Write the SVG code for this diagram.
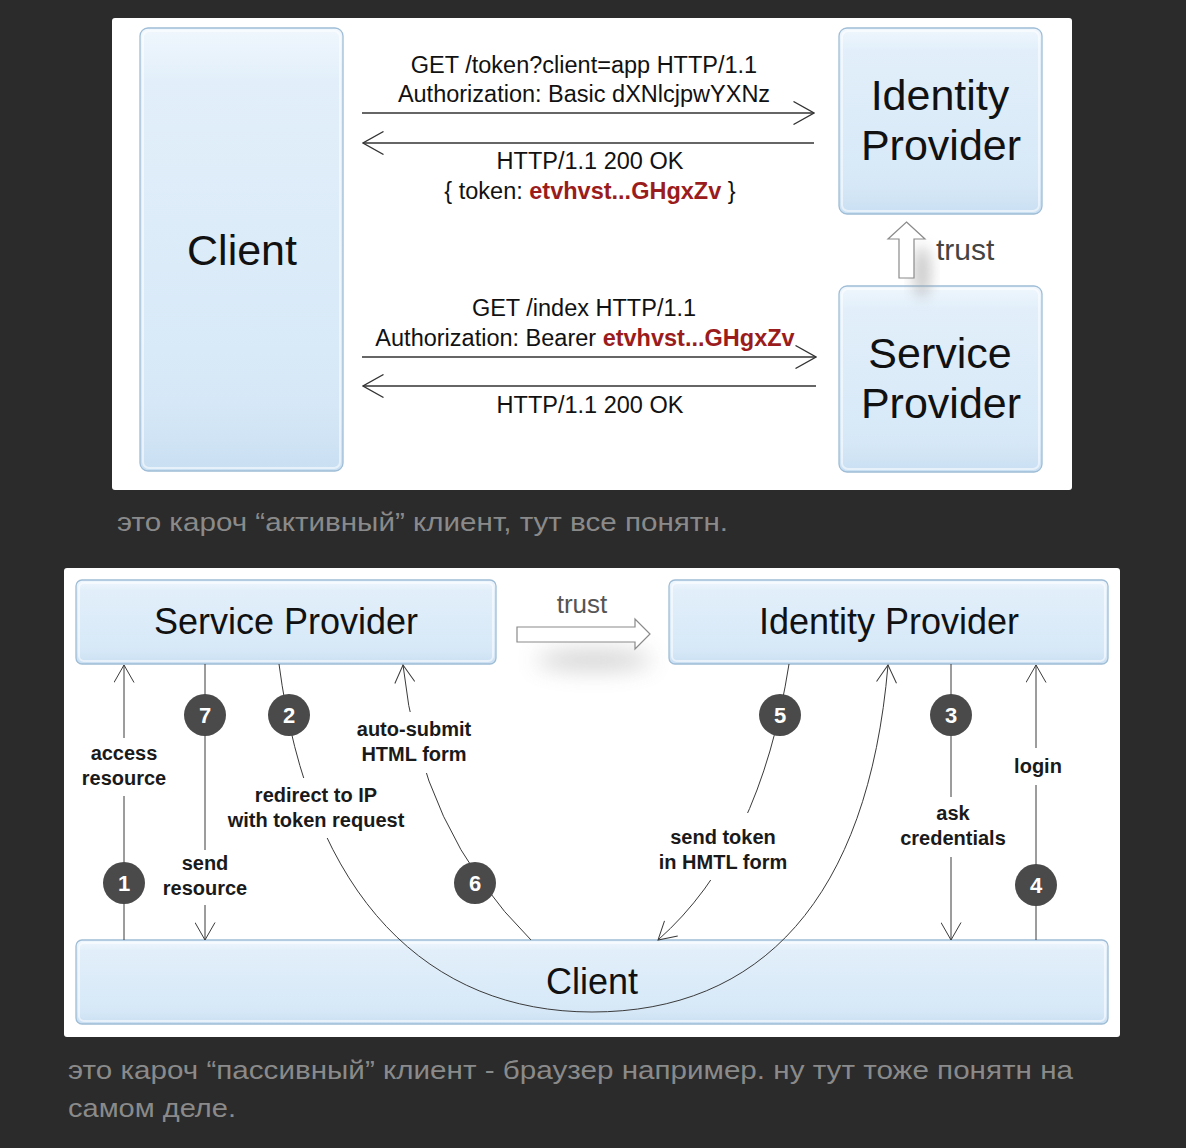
<svg xmlns="http://www.w3.org/2000/svg" width="1186" height="1148" viewBox="0 0 1186 1148">
<defs>
<style>
.t{font-family:"Liberation Sans",Arial,sans-serif;fill:#111}
.big{font-size:43px;text-anchor:middle}
.mid{font-size:36px;text-anchor:middle}
.msg{font-size:23.5px;text-anchor:middle}
.red{fill:#9b1c1c;font-weight:bold}
.lbl{font-size:20px;font-weight:bold;text-anchor:middle;fill:#1a1a1a}
.box{fill:url(#bg);stroke:#9fbdd6;stroke-width:1.3}
.hl{fill:none;stroke:#ffffff;stroke-opacity:.55;stroke-width:2}
.c1{fill:none;stroke:#333;stroke-width:1.4}
.c2{fill:none;stroke:#3a3a3a;stroke-width:1}
.num circle{fill:#4a4a4a}
.num text{font-family:"Liberation Sans",Arial,sans-serif;font-size:22px;font-weight:bold;fill:#fff;text-anchor:middle}
.cap{font-family:"Liberation Sans","Noto Sans",sans-serif;font-size:25.5px;fill:#8a8a8a}
.gap{fill:#fff}
.trust{fill:#fff;stroke:#8a8a8a;stroke-width:1.2}
</style>
<linearGradient id="bg" x1="0" y1="0" x2="0" y2="1">
<stop offset="0" stop-color="#f0f7fd"/>
<stop offset="0.12" stop-color="#e2effa"/>
<stop offset="0.85" stop-color="#d6e8f7"/>
<stop offset="1" stop-color="#c9dff2"/>
</linearGradient>
<filter id="blur" x="-50%" y="-80%" width="200%" height="260%"><feGaussianBlur stdDeviation="7"/></filter>
<filter id="blur2" x="-50%" y="-150%" width="200%" height="400%"><feGaussianBlur stdDeviation="11"/></filter>
<marker id="ab" viewBox="0 0 22 24" refX="21" refY="12" markerWidth="22" markerHeight="24" markerUnits="userSpaceOnUse" orient="auto-start-reverse"><path d="M0.5,0.5 L21,12 L0.5,23.5" fill="none" stroke="#333" stroke-width="1.3"/></marker>
<marker id="as" viewBox="0 0 19 21" refX="18" refY="10.5" markerWidth="19" markerHeight="21" markerUnits="userSpaceOnUse" orient="auto-start-reverse"><path d="M0.5,0.5 L18,10.5 L0.5,20.5" fill="none" stroke="#3a3a3a" stroke-width="1"/></marker>
</defs>
<rect width="1186" height="1148" fill="#2b2b2b"/>

<!-- top panel -->
<rect x="112" y="18" width="960" height="472" rx="3" fill="#fff"/>
<g id="top-client"><rect class="box" x="140" y="28" width="203" height="443" rx="8"/><rect class="hl" x="143" y="31" width="197" height="437" rx="6"/><text class="t big" x="242" y="265">Client</text></g>
<g id="top-idp"><rect class="box" x="839" y="28" width="203" height="186" rx="8"/><rect class="hl" x="842" y="31" width="197" height="180" rx="6"/><text class="t big" x="940" y="110">Identity</text><text class="t big" x="941" y="160">Provider</text></g>
<g id="top-sp"><rect class="box" x="839" y="286" width="203" height="186" rx="8"/><rect class="hl" x="842" y="289" width="197" height="180" rx="6"/><text class="t big" x="940" y="368">Service</text><text class="t big" x="941" y="418">Provider</text></g>
<g id="top-trust">
<ellipse cx="922" cy="272" rx="9" ry="26" fill="#9a9a9a" opacity=".5" filter="url(#blur)"/>
<path class="trust" d="M906.5,222 L925,239 L914,239 L914,278 L899,278 L899,239 L888,239 Z"/>
<text class="t" x="936" y="260" font-size="30" style="fill:#444">trust</text>
</g>
<g id="top-connectors">
<path class="c1" d="M362,113 H814" marker-end="url(#ab)"/>
<path class="c1" d="M814,143 H363" marker-end="url(#ab)"/>
<path class="c1" d="M362,357 H816" marker-end="url(#ab)"/>
<path class="c1" d="M816,386 H363" marker-end="url(#ab)"/>
<text class="t msg" x="584" y="73">GET /token?client=app HTTP/1.1</text>
<text class="t msg" x="584" y="102">Authorization: Basic dXNlcjpwYXNz</text>
<text class="t msg" x="590" y="169">HTTP/1.1 200 OK</text>
<text class="t msg" x="590" y="199">{ token: <tspan class="red">etvhvst...GHgxZv</tspan> }</text>
<text class="t msg" x="584" y="316">GET /index HTTP/1.1</text>
<text class="t msg" x="585" y="346">Authorization: Bearer <tspan class="red">etvhvst...GHgxZv</tspan></text>
<text class="t msg" x="590" y="413">HTTP/1.1 200 OK</text>
</g>

<text class="cap" x="117" y="531" textLength="611" lengthAdjust="spacingAndGlyphs">это кароч “активный” клиент, тут все понятн.</text>

<!-- bottom panel -->
<rect x="64" y="568" width="1056" height="469" rx="3" fill="#fff"/>
<g id="b-trust">
<ellipse cx="594" cy="660" rx="58" ry="10" fill="#9a9a9a" opacity=".45" filter="url(#blur2)"/>
<path class="trust" d="M517,627 L635,627 L635,619 L650,634 L635,649 L635,642 L517,642 Z"/>
<text class="t" x="582" y="613" font-size="26" text-anchor="middle" style="fill:#555">trust</text>
</g>
<g id="b-sp"><rect class="box" x="76" y="580" width="420" height="84" rx="6"/><rect class="hl" x="79" y="583" width="414" height="78" rx="5"/><text class="t mid" x="286" y="634">Service Provider</text></g>
<g id="b-idp"><rect class="box" x="669" y="580" width="439" height="84" rx="6"/><rect class="hl" x="672" y="583" width="433" height="78" rx="5"/><text class="t mid" x="889" y="634">Identity Provider</text></g>
<g id="b-client"><rect class="box" x="76" y="940" width="1032" height="84" rx="6"/><rect class="hl" x="79" y="943" width="1026" height="78" rx="5"/><text class="t mid" x="592" y="994">Client</text></g>

<g id="b-connectors">
<path class="c2" d="M124,940 V665" marker-end="url(#as)"/>
<path class="c2" d="M205,664 V940" marker-end="url(#as)"/>
<path class="c2" d="M279,664 C310,900 430,1012 592,1012 C760,1012 868,900 888,665" marker-end="url(#as)"/>
<path class="c2" d="M531,940 Q420,830 403,665" marker-end="url(#as)"/>
<path class="c2" d="M789,664 Q760,850 658,940" marker-end="url(#as)"/>
<path class="c2" d="M951,664 V940" marker-end="url(#as)"/>
<path class="c2" d="M1036,940 V665" marker-end="url(#as)"/>
</g>
<g id="b-labels">
<rect class="gap" x="82" y="738" width="84" height="58"/>
<text class="t lbl" x="124" y="760">access</text><text class="t lbl" x="124" y="785">resource</text>
<rect class="gap" x="162" y="850" width="86" height="55"/>
<text class="t lbl" x="205" y="870">send</text><text class="t lbl" x="205" y="895">resource</text>
<rect class="gap" x="228" y="778" width="178" height="60"/>
<text class="t lbl" x="316" y="802">redirect to IP</text><text class="t lbl" x="316" y="827">with token request</text>
<rect class="gap" x="356" y="712" width="116" height="61"/>
<text class="t lbl" x="414" y="736">auto-submit</text><text class="t lbl" x="414" y="761">HTML form</text>
<rect class="gap" x="658" y="813" width="130" height="67"/>
<text class="t lbl" x="723" y="844">send token</text><text class="t lbl" x="723" y="869">in HMTL form</text>
<rect class="gap" x="900" y="797" width="104" height="60"/>
<text class="t lbl" x="953" y="820">ask</text><text class="t lbl" x="953" y="845">credentials</text>
<rect class="gap" x="1013" y="748" width="48" height="37"/>
<text class="t lbl" x="1038" y="773">login</text>
</g>
<g id="n1" class="num"><circle cx="124" cy="883" r="21"/><text x="124" y="891">1</text></g>
<g id="n2" class="num"><circle cx="289" cy="715" r="21"/><text x="289" y="723">2</text></g>
<g id="n3" class="num"><circle cx="951" cy="715" r="21"/><text x="951" y="723">3</text></g>
<g id="n4" class="num"><circle cx="1036" cy="885" r="21"/><text x="1036" y="893">4</text></g>
<g id="n5" class="num"><circle cx="780" cy="715" r="21"/><text x="780" y="723">5</text></g>
<g id="n6" class="num"><circle cx="475" cy="883" r="21"/><text x="475" y="891">6</text></g>
<g id="n7" class="num"><circle cx="205" cy="715" r="21"/><text x="205" y="723">7</text></g>

<text class="cap" x="68" y="1079" textLength="1005" lengthAdjust="spacingAndGlyphs">это кароч “пассивный” клиент - браузер например. ну тут тоже понятн на</text>
<text class="cap" x="68" y="1117" textLength="168" lengthAdjust="spacingAndGlyphs">самом деле.</text>
</svg>
